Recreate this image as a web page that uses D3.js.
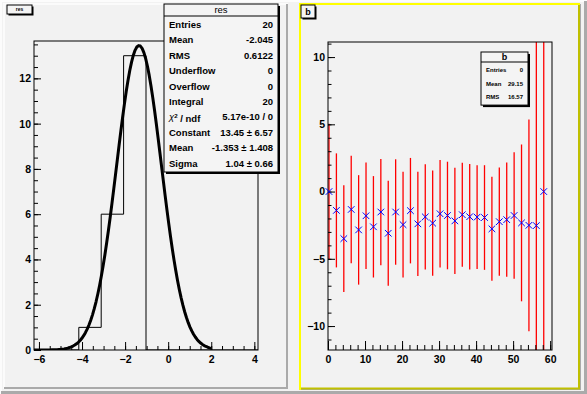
<!DOCTYPE html>
<html>
<head>
<meta charset="utf-8">
<script src="https://cdn.jsdelivr.net/npm/d3@7/dist/d3.min.js"></script>
<style>
  body { margin: 0; background: #f2f2f2; }
  svg { display: block; font-family: "Liberation Sans", Arial, sans-serif; }
</style>
</head>
<body>
<div id="canvas"></div>
<script>
// ---- data: histogram "res" ----
const resBinLow = -6.23;
const resBinWidth = 1.04;
const resCounts = [0, 0, 1, 6, 13, 0, 0, 0, 0, 0];
const resXTicks = [-6, -4, -2, 0, 2, 4];
const resYTicks = [0, 2, 4, 6, 8, 10, 12];
const resStatLabels = ["Entries", "Mean", "RMS", "Underflow", "Overflow", "Integral", "chi2", "Constant", "Mean", "Sigma"];
const resStatValues = ["20", "-2.045", "0.6122", "0", "0", "20", "5.17e-10 / 0", "13.45 \u00b1 6.57", "-1.353 \u00b1 1.408", "1.04 \u00b1 0.66"];
// gaussian fit: constant, mean, sigma
const fitParams = [13.45, -1.353, 1.04];
const fitRange = [-6.23, 2.0];

// ---- data: graph "b" ----
const bX = [0, 2, 4, 6, 8, 10, 12, 14, 16, 18, 20, 22, 24, 26, 28, 30, 32, 34, 36, 38, 40, 42, 44, 46, 48, 50, 52, 54, 56, 58];
const bY = [0, -1.4, -3.5, -1.33, -2.85, -1.8, -2.62, -1.52, -3.1, -1.52, -2.46, -1.42, -2.4, -1.88, -2.35, -1.65, -1.78, -2.18, -1.72, -1.87, -1.9, -1.93, -2.77, -2.24, -2.09, -1.78, -2.33, -2.51, -2.53, 0];
const bErr = [5.05, 4.24, 3.97, 4.0, 4.07, 3.96, 3.77, 3.95, 3.91, 3.92, 3.93, 3.92, 3.87, 3.91, 3.91, 4.0, 4.0, 3.95, 3.87, 3.92, 3.85, 3.89, 3.87, 4.02, 4.25, 4.7, 5.83, 7.87, 15, 16];
const bXTicks = [0, 10, 20, 30, 40, 50, 60];
const bYTicks = [-10, -5, 0, 5, 10];
const bStatLabels = ["Entries", "Mean", "RMS"];
const bStatValues = ["0", "29.15", "16.57"];

const W = 587, H = 394;
const svg = d3.select("#canvas").append("svg")
  .attr("width", W).attr("height", H);

// canvas background and border
svg.append("rect").attr("width", W).attr("height", H).attr("fill", "#f2f2f2");
svg.append("path").attr("d", `M0,${H} V0 H${W}`).attr("fill", "none").attr("stroke", "#fcfcfc").attr("stroke-width", 4);
svg.append("path").attr("d", `M1,${H - 1.5} H${W - 1.5} V1`).attr("fill", "none").attr("stroke", "#aaaaaa").attr("stroke-width", 3);

// pad helper
function drawPad(x0, y0, x1, y1, hiLight, hiDark) {
  const g = svg.append("g");
  g.append("rect").attr("x", x0).attr("y", y0).attr("width", x1 - x0).attr("height", y1 - y0).attr("fill", "#f2f2f2");
  g.append("path").attr("d", `M${x0 + 1},${y1} V${y0 + 1} H${x1}`).attr("fill", "none").attr("stroke", hiLight).attr("stroke-width", 2);
  g.append("path").attr("d", `M${x0 + 1},${y1 - 1} H${x1 - 1} V${y0 + 1}`).attr("fill", "none").attr("stroke", hiDark).attr("stroke-width", 2);
  return g;
}

function drawTitleBox(g, x, y, w, h, text, size) {
  g.append("rect").attr("x", x + 1.5).attr("y", y + 1.5).attr("width", w).attr("height", h).attr("fill", "#000");
  g.append("rect").attr("x", x).attr("y", y).attr("width", w).attr("height", h)
    .attr("fill", "#f4f4f4").attr("stroke", "#000").attr("stroke-width", 1);
  g.append("text").attr("x", x + w / 2).attr("y", y + h / 2).attr("dy", "0.35em")
    .attr("text-anchor", "middle").style("font-size", size + "px").style("font-weight", "bold").text(text);
}

function drawStats(g, x, y, w, titleH, rowH, title, labels, values, fs, titleFs, titleBold) {
  const h = titleH + rowH * labels.length + 2;
  g.append("rect").attr("x", x + 2).attr("y", y + 2).attr("width", w).attr("height", h).attr("fill", "#000");
  g.append("rect").attr("x", x).attr("y", y).attr("width", w).attr("height", h)
    .attr("fill", "#f4f4f4").attr("stroke", "#000").attr("stroke-width", 1);
  g.append("line").attr("x1", x).attr("x2", x + w).attr("y1", y + titleH).attr("y2", y + titleH).attr("stroke", "#000");
  g.append("text").attr("x", x + w / 2).attr("y", y + titleH / 2).attr("dy", "0.35em")
    .attr("text-anchor", "middle").style("font-size", titleFs + "px")
    .style("font-weight", titleBold ? "bold" : "normal").text(title);
  labels.forEach((lab, i) => {
    const cy = y + titleH + rowH * (i + 0.5) + 1;
    const t = g.append("text").attr("x", x + 5).attr("y", cy).attr("dy", "0.35em")
      .style("font-size", fs + "px").style("font-weight", "bold");
    if (lab === "chi2") {
      t.append("tspan").style("font-weight", "normal").style("font-style", "italic").text("\u03c7");
      t.append("tspan").attr("dy", "-0.4em").style("font-size", (fs * 0.65) + "px").text("2");
      t.append("tspan").attr("dy", "0.4em").text(" / ndf");
    } else {
      t.text(lab);
    }
    g.append("text").attr("x", x + w - 5).attr("y", cy).attr("dy", "0.35em")
      .attr("text-anchor", "end").style("font-size", fs + "px").style("font-weight", "bold").text(values[i]);
  });
}

// axis helper, ROOT-like ticks pointing inwards
function drawAxes(g, x, y, major, minorX, minorY, majLen, minLen) {
  const fr = { l: x.range()[0], r: x.range()[1], t: y.range()[1], b: y.range()[0] };
  g.append("g").attr("transform", `translate(0,${fr.b})`)
    .call(d3.axisBottom(x).tickValues(minorX).tickSize(-minLen.x).tickFormat(""))
    .call(a => a.select(".domain").remove());
  g.append("g").attr("transform", `translate(0,${fr.b})`)
    .call(d3.axisBottom(x).tickValues(major.x).tickSize(-majLen.x).tickPadding(6).tickFormat(d3.format("d")))
    .call(a => a.select(".domain").remove());
  g.append("g").attr("transform", `translate(${fr.l},0)`)
    .call(d3.axisLeft(y).tickValues(minorY).tickSize(-minLen.y).tickFormat(""))
    .call(a => a.select(".domain").remove());
  g.append("g").attr("transform", `translate(${fr.l},0)`)
    .call(d3.axisLeft(y).tickValues(major.y).tickSize(-majLen.y).tickPadding(3).tickFormat(d3.format("d")))
    .call(a => a.select(".domain").remove());
  g.selectAll(".tick line").attr("stroke", "#000");
  g.selectAll(".tick text").attr("fill", "#000").style("font-size", "10.5px").style("font-weight", "bold")
    .style("font-family", "'Liberation Sans', Arial, sans-serif");
  g.append("rect").attr("x", fr.l).attr("y", fr.t).attr("width", fr.r - fr.l).attr("height", fr.b - fr.t)
    .attr("fill", "none").attr("stroke", "#000").attr("stroke-width", 1);
}

// ================= left pad: histogram res =================
const padL = drawPad(3, 3, 288, 389, "#fbfbfb", "#aaaaaa");
const resHigh = resBinLow + resBinWidth * resCounts.length;
const xL = d3.scaleLinear().domain([resBinLow, resHigh]).range([34, 258]);
const yL = d3.scaleLinear().domain([0, d3.max(resCounts) * 1.05]).range([350, 41]);

padL.append("clipPath").attr("id", "clipL").append("rect")
  .attr("x", 34).attr("y", 41).attr("width", 224).attr("height", 309);

const stepPts = [[resBinLow, 0]];
resCounts.forEach((c, i) => {
  stepPts.push([resBinLow + i * resBinWidth, c]);
  stepPts.push([resBinLow + (i + 1) * resBinWidth, c]);
});
stepPts.push([resHigh, 0]);
padL.append("path")
  .attr("d", d3.line().x(d => xL(d[0])).y(d => yL(d[1]))(stepPts))
  .attr("fill", "none").attr("stroke", "#000").attr("stroke-width", 1)
  .attr("clip-path", "url(#clipL)");

drawAxes(padL, xL, yL,
  { x: resXTicks, y: resYTicks },
  d3.range(-6, 4.01, 0.5), d3.range(0, 13.6, 0.5),
  { x: 8, y: 7 }, { x: 4, y: 4 });

// fit curve
const gauss = v => fitParams[0] * Math.exp(-0.5 * Math.pow((v - fitParams[1]) / fitParams[2], 2));
const fitPts = d3.range(101).map(i => {
  const v = fitRange[0] + (fitRange[1] - fitRange[0]) * i / 100;
  return [v, gauss(v)];
});
padL.append("path")
  .attr("d", d3.line().x(d => xL(d[0])).y(d => yL(d[1]))(fitPts))
  .attr("fill", "none").attr("stroke", "#000").attr("stroke-width", 3)
  .attr("stroke-linejoin", "round").attr("clip-path", "url(#clipL)");

drawTitleBox(padL, 7, 5, 25, 9, "res", 5);
drawStats(padL, 164, 4, 114, 12, 15.4, "res", resStatLabels, resStatValues, 9.5, 9.5, false);

// ================= right pad: graph b =================
const padR = drawPad(299, 3, 581, 390, "#f2f2f2", "#aaaaaa");
// selected-pad highlight
padR.append("path").attr("d", "M300,390 V4 H580").attr("fill", "none").attr("stroke", "#ffff00").attr("stroke-width", 2);
padR.append("path").attr("d", "M301,388.5 H579 V5").attr("fill", "none").attr("stroke", "#c0c000").attr("stroke-width", 2);

const xR = d3.scaleLinear().domain([0, 60.5]).range([328, 552]);
const yR = d3.scaleLinear().domain([-11.78, 11.12]).range([350, 42]);

padR.append("clipPath").attr("id", "clipR").append("rect")
  .attr("x", 328).attr("y", 42).attr("width", 224).attr("height", 308);

const pts = bX.map((x, i) => ({ x: x, y: bY[i], e: bErr[i] }));

padR.append("g").attr("clip-path", "url(#clipR)")
  .selectAll("line").data(pts).join("line")
  .attr("x1", d => xR(d.x) + 1).attr("x2", d => xR(d.x) + 1)
  .attr("y1", d => yR(d.y + d.e)).attr("y2", d => yR(d.y - d.e))
  .attr("stroke", "#ff0000").attr("stroke-width", 1.3);

drawAxes(padR, xR, yR,
  { x: bXTicks, y: bYTicks },
  d3.range(0, 60.1, 2), d3.range(-11, 11.1, 1),
  { x: 9, y: 7 }, { x: 5, y: 3.5 });

const ms = 3.3;
padR.append("g").selectAll("path").data(pts).join("path")
  .attr("d", d => {
    const cx = xR(d.x) + 1, cy = yR(d.y);
    return `M${cx - ms},${cy - ms} L${cx + ms},${cy + ms} M${cx - ms},${cy + ms} L${cx + ms},${cy - ms}`;
  })
  .attr("fill", "none").attr("stroke", "#0000ff").attr("stroke-width", 1);

drawTitleBox(padR, 301, 5, 14, 13, "b", 9);
drawStats(padR, 481, 52, 47, 10, 13.7, "b", bStatLabels, bStatValues, 6, 9, true);
</script>
</body>
</html>
